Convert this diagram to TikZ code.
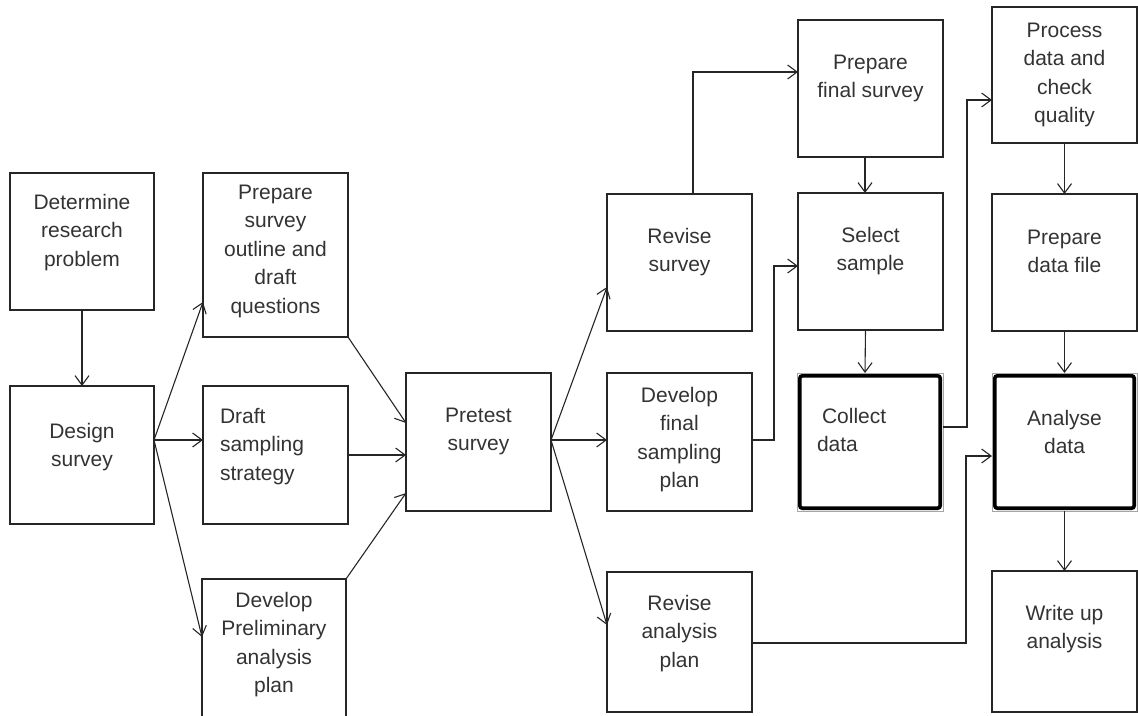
\documentclass[tikz,border=0pt]{standalone}
\usepackage{fontspec}
\setmainfont{Liberation Sans}
\usetikzlibrary{arrows.meta,calc}
\tikzset{
  box/.style={draw=black!85, line width=1.1pt, inner sep=0pt, outer sep=0pt, anchor=center},
  boxline/.style={draw=black!85, line width=1.1pt},
  thickbox/.style={draw=black, line width=3.6pt, rounded corners=2.5pt},
  txt/.style={inner sep=0pt, outer sep=0pt, align=center, font=\fontsize{21}{28.5}\selectfont, text=black!80, anchor=north},
  ltxt/.style={txt, align=left, anchor=north west},
  conn/.style={line width=1.1pt, draw=black!85, -{Straight Barb[length=9.5pt,width=14pt,line width=1.1pt]}},
}
\begin{document}
\begin{tikzpicture}[x=1pt,y=-1pt]
\useasboundingbox (0,0) rectangle (1138,715);

% boxes
\node[box, minimum width=144pt, minimum height=137pt] (det) at (82,241.5) {};
\node[box, minimum width=144pt, minimum height=138pt] (des) at (82,455) {};
\node[box, minimum width=145pt, minimum height=164pt] (outl) at (275.5,255) {};
\node[box, minimum width=145pt, minimum height=138pt] (draft) at (275.5,455) {};
\node[box, draw=none, minimum width=144pt, minimum height=137pt] (prel) at (274,647.5) {};
\draw[boxline] (prel.south west) -- (prel.north west) -- (prel.north east) -- (prel.south east);
\node[box, minimum width=145pt, minimum height=138pt] (pre) at (478.5,442) {};
\node[box, minimum width=145pt, minimum height=137pt] (revs) at (679.5,262.5) {};
\node[box, minimum width=145pt, minimum height=138pt] (devf) at (679.5,442) {};
\node[box, minimum width=145pt, minimum height=140pt] (reva) at (679.5,642) {};
\node[box, minimum width=145pt, minimum height=137pt] (prfs) at (870.5,88.5) {};
\node[box, minimum width=145pt, minimum height=137pt] (sel) at (870.5,261.5) {};
\node[box, draw=black!35, line width=0.8pt, minimum width=146pt, minimum height=138pt] (col) at (870,442) {};
\draw[thickbox] ([xshift=2.8pt,yshift=-2.8pt]col.north west) rectangle ([xshift=-2.8pt,yshift=2.8pt]col.south east);
\node[box, minimum width=145pt, minimum height=136pt] (proc) at (1064.5,75) {};
\node[box, minimum width=145pt, minimum height=137pt] (pdf) at (1064.5,262.5) {};
\node[box, draw=black!35, line width=0.8pt, minimum width=145pt, minimum height=138pt] (ana) at (1064.5,442) {};
\draw[thickbox] ([xshift=2.8pt,yshift=-2.8pt]ana.north west) rectangle ([xshift=-2.8pt,yshift=2.8pt]ana.south east);
\node[box, minimum width=145pt, minimum height=141pt] (wri) at (1064.5,641.5) {};

% texts
\node[txt] (det-t) at (82,194) {Determine\\research\\problem};
\node[txt] (des-t) at (82,423) {Design\\survey};
\node[txt] (outl-t) at (275.5,185) {Prepare\\survey\\outline and\\draft\\questions};
\node[ltxt] (draft-t) at (220,408) {Draft\\sampling\\strategy};
\node[txt] (prel-t) at (274,592) {Develop\\Preliminary\\analysis\\plan};
\node[txt] (pre-t) at (478.5,408) {Pretest\\survey};
\node[txt] (revs-t) at (679.5,228) {Revise\\survey};
\node[txt] (devf-t) at (679.5,387) {Develop\\final\\sampling\\plan};
\node[txt] (reva-t) at (679.5,595) {Revise\\analysis\\plan};
\node[txt] (prfs-t) at (870.5,55) {Prepare\\final survey};
\node[txt] (sel-t) at (870.5,227) {Select\\sample};
\node[ltxt] (col-t) at (817,408) {\hspace*{5pt}Collect\\data};
\node[txt] (proc-t) at (1064.5,23) {Process\\data and\\check\\quality};
\node[txt] (pdf-t) at (1064.5,230) {Prepare\\data file};
\node[txt] (ana-t) at (1064.5,410) {Analyse\\data};
\node[txt] (wri-t) at (1064.5,605) {Write up\\analysis};

% connectors
\draw[conn] (det.south) -- (des.north);
\draw[conn] ([yshift=15pt]des.east) -- ([yshift=-47pt]outl.west);
\draw[conn] ([yshift=15pt]des.east) -- ([yshift=15pt]draft.west);
\draw[conn] ([yshift=15pt]des.east) -- ([yshift=10.5pt]prel.west);
\draw[conn] (outl.south east) -- ([yshift=19pt]pre.west);
\draw[conn] (draft.east) -- (pre.west |- draft.east);
\draw[conn] (prel.north east) -- ([yshift=-51pt]pre.west);
\draw[conn] ([yshift=2pt]pre.east) -- ([yshift=-24.5pt]revs.west);
\draw[conn] ([yshift=2pt]pre.east) -- ([yshift=2pt]devf.west);
\draw[conn] ([yshift=2pt]pre.east) -- ([yshift=17pt]reva.west);
\draw[conn] ([xshift=13.5pt]revs.north) |- ([yshift=16.5pt]prfs.west);
\draw[conn] ([xshift=-5.5pt]prfs.south) -- ([xshift=-5.5pt]sel.north);
\draw[conn] ([yshift=2pt]devf.east) -- ++(22,0) |- ([yshift=-4.5pt]sel.west);
\draw[conn] ([xshift=-5pt]sel.south) -- ([xshift=-5pt]col.north);
\draw[conn] ([yshift=15pt]col.east) -- ++(24,0) |- ([yshift=-25pt]proc.west);
\draw[conn] (proc.south) -- (pdf.north);
\draw[conn] (pdf.south) -- (ana.north);
\draw[conn] ([yshift=-1pt]reva.east) -- ++(214,0) |- ([yshift=-14pt]ana.west);
\draw[conn] (ana.south) -- (wri.north);
\end{tikzpicture}
\end{document}
